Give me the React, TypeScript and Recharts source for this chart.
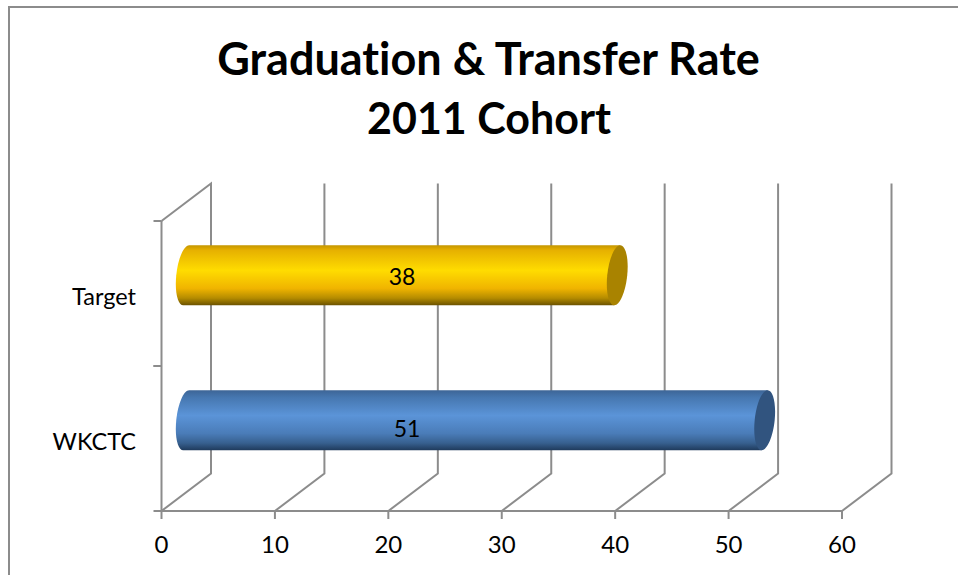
import React from "react";
import { BarChart, Bar, XAxis, YAxis, CartesianGrid, Cell, LabelList } from "recharts";

const CATEGORIES = ["Target", "WKCTC"];
const RATES = [38, 51];
const X_TICKS = [0, 10, 20, 30, 40, 50, 60];

const CAP_COLORS = ["#a98300", "#31547f"];
const GRID_COLOR = "#8c8c8c";

// fake 3D: how far the floor runs back and up
const DEPTH_X = 49.5;
const DEPTH_Y = 37.5;
const RX = 10;
const SLANT = 3;
const K = 0.5523;

// the data labels in the picture don't sit at bar centres
const LABEL_DX = [240.5, 245.5];
const LABEL_DY = [-18.5, -11.5];

const TICK_LEN = 8;
const TICK_MARGIN = 17.5;

const data = CATEGORIES.map((name, i) => ({ name, rate: RATES[i] }));

function Cylinder(props: any) {
    const { x, y, width, height, index } = props;
    const x0 = x + DEPTH_X / 2;
    const x1 = x0 + width;
    const cy = y + height / 2 - DEPTH_Y / 2;
    const ry = height / 2;
    const top = cy - ry;
    const bottom = cy + ry;
    const left = `M${x0 + SLANT},${top} C${x0 + SLANT - K * RX},${top} ${x0 - RX + K * SLANT},${cy - K * ry} ${x0 - RX},${cy} C${x0 - RX - K * SLANT},${cy + K * ry} ${x0 - SLANT - K * RX},${bottom} ${x0 - SLANT},${bottom}`;
    const body = `${left} L${x1 - SLANT},${bottom} L${x1 + SLANT},${top} Z`;
    const capRight = `C${x1 - SLANT + K * RX},${bottom} ${x1 + RX - K * SLANT},${cy + K * ry} ${x1 + RX},${cy} C${x1 + RX + K * SLANT},${cy - K * ry} ${x1 + SLANT + K * RX},${top} ${x1 + SLANT},${top}`;
    const capLeft = `C${x1 + SLANT - K * RX},${top} ${x1 - RX + K * SLANT},${cy - K * ry} ${x1 - RX},${cy} C${x1 - RX - K * SLANT},${cy + K * ry} ${x1 - SLANT - K * RX},${bottom} ${x1 - SLANT},${bottom}`;
    return (
        <g>
            <path d={body} fill={`url(#tube${index})`} />
            <path
                d={`M${x1 + SLANT},${top} ${capLeft} ${capRight} Z`}
                fill={CAP_COLORS[index]}
            />
        </g>
    );
}

// one grid line = floor diagonal plus the upright on the back wall
function WallLine(props: any) {
    const { x1, y1, y2, index } = props;
    const topY = Math.min(y1, y2);
    const bottomY = Math.max(y1, y2);
    const bx = x1 + DEPTH_X;
    const pts =
        index === 0
            ? `${x1},${bottomY} ${bx},${bottomY - DEPTH_Y} ${bx},${topY - DEPTH_Y} ${x1},${topY}`
            : `${x1},${bottomY} ${bx},${bottomY - DEPTH_Y} ${bx},${topY - DEPTH_Y}`;
    return <polyline key={`wall-${index}`} points={pts} fill="none" stroke={GRID_COLOR} strokeWidth={2} />;
}

// category label plus tick marks on the band edges, not the band centre
function CategoryTick(props: any) {
    const { x, y, payload, height, visibleTicksCount } = props;
    const half = height / visibleTicksCount / 2;
    const markX = x + TICK_MARGIN;
    return (
        <g>
            <line x1={markX} x2={markX + TICK_LEN} y1={y - half} y2={y - half} stroke={GRID_COLOR} strokeWidth={2} />
            <line x1={markX} x2={markX + TICK_LEN} y1={y + half} y2={y + half} stroke={GRID_COLOR} strokeWidth={2} />
            <text x={x} y={y + 2.5} textAnchor="end" dominantBaseline="central" fontSize={23.5} fill="#000">
                {payload.value}
            </text>
        </g>
    );
}

function BarValue(props: any) {
    const { x, y, height, value, index } = props;
    return (
        <text
            x={x + LABEL_DX[index]}
            y={y + height / 2 + LABEL_DY[index]}
            textAnchor="middle"
            dominantBaseline="central"
            fontSize={23}
            fill="#000"
        >
            {value}
        </text>
    );
}

export default function App() {
    return (
        <div
            style={{
                position: "absolute",
                left: 0,
                top: 0,
                width: 958,
                height: 575,
                background: "#fff",
                overflow: "hidden",
                fontFamily: "Lato, sans-serif",
            }}
        >
            <div
                style={{
                    position: "absolute",
                    left: 8,
                    top: 6,
                    width: 960,
                    height: 580,
                    borderLeft: "2px solid #8c8c8c",
                    borderTop: "2px solid #8c8c8c",
                }}
            />
            <div style={{ position: "absolute", left: 0, top: 0 }}>
                <BarChart
                    width={958}
                    height={575}
                    data={data}
                    layout="vertical"
                    margin={{ top: 221, right: 116, bottom: 0, left: 0 }}
                    barSize={60}
                    style={{ fontFamily: "Lato, sans-serif" }}
                >
                    <defs>
                        <linearGradient id="tube0" x1="0" y1="0" x2="0" y2="1">
                            <stop offset="0" stopColor="#c49600" />
                            <stop offset="0.08" stopColor="#e6b000" />
                            <stop offset="0.42" stopColor="#ffdc00" />
                            <stop offset="0.72" stopColor="#f0b400" />
                            <stop offset="0.88" stopColor="#b58c00" />
                            <stop offset="1" stopColor="#6b5200" />
                        </linearGradient>
                        <linearGradient id="tube1" x1="0" y1="0" x2="0" y2="1">
                            <stop offset="0" stopColor="#3d6596" />
                            <stop offset="0.12" stopColor="#4677b0" />
                            <stop offset="0.42" stopColor="#5b94d8" />
                            <stop offset="0.72" stopColor="#4a7cb8" />
                            <stop offset="0.88" stopColor="#37608f" />
                            <stop offset="1" stopColor="#1f3a5c" />
                        </linearGradient>
                    </defs>
                    <text x={488.5} y={58} textAnchor="middle" dominantBaseline="central" fontSize={45} fontWeight={700} fill="#000" style={{ fontVariantLigatures: "none" }}>
                        Graduation &amp; Transfer Rate
                    </text>
                    <text x={489} y={117} textAnchor="middle" dominantBaseline="central" fontSize={43} fontWeight={700} fill="#000">
                        2011 Cohort
                    </text>
                    <CartesianGrid horizontal={false} vertical={WallLine} syncWithTicks />
                    <XAxis
                        type="number"
                        domain={[0, 60]}
                        ticks={X_TICKS}
                        interval={0}
                        stroke={GRID_COLOR}
                        strokeWidth={2}
                        tickSize={TICK_LEN}
                        tick={{ fill: "#000", fontSize: 24 }}
                        tickMargin={17}
                        height={64}
                    />
                    <YAxis
                        type="category"
                        dataKey="name"
                        width={161.5}
                        stroke={GRID_COLOR}
                        strokeWidth={2}
                        tickLine={false}
                        tickSize={TICK_LEN}
                        tickMargin={TICK_MARGIN}
                        tick={CategoryTick}
                    />
                    <Bar dataKey="rate" shape={Cylinder} isAnimationActive={false}>
                        {data.map((d, i) => (
                            <Cell key={d.name} fill={CAP_COLORS[i]} />
                        ))}
                        <LabelList dataKey="rate" content={BarValue} />
                    </Bar>
                </BarChart>
            </div>
        </div>
    );
}
